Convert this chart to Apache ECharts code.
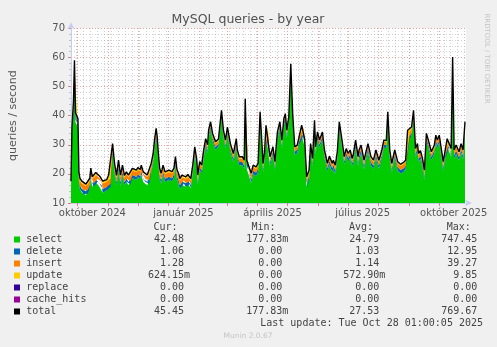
<!DOCTYPE html>
<html><head><meta charset="utf-8">
<script src="https://cdn.jsdelivr.net/npm/echarts@6/dist/echarts.min.js"></script>
<style>html,body{margin:0;padding:0;background:#f0f0f0}#c{width:497px;height:347px}</style>
</head><body><div id="c"></div>
<script>
// ---- data (day offsets from graph start, queries/second) ----
const days = [
0,1,2.5,3.5,4.5,6,7,8,9,11,13,15,17,19,20,21.5,23,25,27,29,31,32,34,36,38,40,42,44,46,48,50,52,54,56,58,60,62,64,66,67.5,70,71,73,75,77,79,81,83,84.5,86,87,88,89.5,91,92,93,95,97,99,
100,102,104,105.5,107,108.5,110,112,114,116,118,120,121,123,125,127,128,130,132,134,136,138,139,141,143,146,149,152,154,156,158,161,164,167,168,170,173,175,176,177.5,179,182,184,187,189,191,194,195.5,197,
199,201,204,206,208.5,211,213,215,216.5,218,220,222,224,226,228.5,230,233,235,236,238,239,240.5,242,244,246,247,249,251,254,256,259,261,264,265,267,269,271,274,276,278,280,282,284,285,287.5,290,291,293,296,298,
300,303,305.5,308,311,314,316,318.5,320,322,324,327,330,333,336,338,340,342,344,346,348,350,351,353,355,357,359,361,364,367,368.5,370,372,374,376,378,380,382,384,385.5,387,389,392,394,396,398];

const total = [
17.5,36,45,59,41,40.5,39,20.5,18.5,17.5,17,16.5,17,18.5,22,19,19.2,20.5,20.7,19.2,19.5,17.5,17.9,18,19.6,19,30.4,23.6,19.5,24.7,19.6,23,19.5,20.7,19.6,19.8,21.9,21.5,21.3,22.2,21.5,23,20.7,20.7,19.6,20,23.6,27,32,35.6,33,28,22,20.2,21.5,23,20.7,21,21.3,
21,20.8,22,25.9,21.5,20.2,18.4,19.6,19.8,19,19.8,19.5,18.4,23,29.3,25,19.6,24.2,23,28.2,32.1,30,35,37.9,33.9,31,32,41.8,35,31.6,36.1,30.4,27,32.1,28.2,25.9,25.9,24.7,45.8,24.7,24.2,20.2,23,22.4,23.6,41.3,23.6,27.6,36.7,
36.5,25.9,29.3,24.2,34.4,37.9,31.6,39,40.7,35,39.6,57.8,40.1,29.3,29.9,32.1,36.7,36.7,32,19,18.5,21.3,30.4,25.3,38.4,29.3,34.4,31.6,34.4,28.2,23.6,26.1,23.6,24.7,23,27.6,37.9,31,25.9,28.7,27,28.2,25.3,26.4,31.6,25.9,28.2,29.9,24.7,27.6,
30.4,25.9,24.7,28.2,24.7,28.2,31.6,31.5,41.3,28.2,23.6,28.2,24.2,23.3,24,24.7,35,35,36.1,41.8,28.7,30.4,27,28,25.3,21.3,33.9,31.6,27.6,29.9,33.3,31.6,33.3,28.7,24.2,28.2,32.1,32,28.7,60.1,28.2,29.9,27.6,30.4,28.2,37.9];

const selectV = [
13.7,32.7,41.9,55.5,37.7,37.3,35.9,17.0,14.8,13.5,12.9,12.7,13.3,15.0,18.7,15.5,15.5,17.1,17.4,15.4,16.0,13.5,14.1,14.3,16.1,15.5,27.3,20.3,15.9,21.5,15.9,19.7,16.0,17.4,16.1,16.4,18.6,18.1,17.9,18.9,18.1,19.8,17.2,17.3,16.0,16.6,20.3,23.9,28.9,32.5,29.9,24.7,18.5,16.6,18.1,19.7,17.2,17.6,18.0,
17.6,17.4,18.8,22.9,18.2,16.8,14.8,16.2,16.7,15.6,16.7,16.4,15.0,20.1,26.4,22.1,16.3,21.3,20.2,25.4,29.6,27.2,32.5,35.4,31.3,28.2,29.4,39.4,32.4,28.8,33.6,27.6,24.1,29.5,25.4,23.0,23.0,21.7,43.4,21.8,21.3,16.8,19.9,19.3,20.7,38.9,20.7,24.8,33.7,
33.2,22.8,26.7,21.4,31.9,35.5,29.0,36.6,38.3,32.4,37.2,55.4,37.7,26.5,27.1,29.5,33.4,33.4,29.2,15.7,15.2,18.2,27.8,22.5,36.0,26.7,31.9,29.0,31.9,25.6,20.8,23.3,20.6,21.9,19.9,25.0,35.5,28.4,23.1,26.1,24.2,25.6,22.5,23.6,29.0,22.7,24.8,27.1,21.6,24.8,
27.7,22.9,21.7,25.5,21.7,25.5,29.0,28.9,38.9,25.5,20.5,25.5,21.1,20.1,20.7,21.6,31.8,31.8,33.0,39.3,25.8,27.8,24.1,25.1,22.2,18.0,31.3,29.0,24.7,27.0,30.7,28.8,30.7,25.8,21.1,25.3,29.5,29.3,25.8,57.6,25.2,26.8,24.5,27.4,25.0,35.1];

const deleteV = [
1.2,1.0,1.0,1.1,1.0,1.0,1.0,1.1,1.2,1.3,1.4,1.3,1.2,1.1,1.0,1.1,1.2,1.0,1.0,1.2,1.1,1.3,1.3,1.2,1.1,1.1,1.0,1.0,1.2,1.0,1.2,1.0,1.1,1.0,1.1,1.1,1.0,1.0,1.1,1.0,1.0,1.0,1.1,1.1,1.2,1.1,1.0,1.0,1.0,1.0,1.0,1.0,1.1,1.2,1.1,1.0,1.1,1.1,1.0,
1.1,1.1,1.0,1.0,1.1,1.2,1.3,1.2,1.1,1.2,1.1,1.1,1.2,1.0,1.0,1.0,1.2,1.0,1.0,1.0,0.9,1.0,0.9,0.9,1.0,1.0,1.0,0.9,1.0,1.0,0.9,1.0,1.1,1.0,1.0,1.1,1.1,1.1,0.9,1.1,1.1,1.3,1.2,1.2,1.1,0.9,1.1,1.0,1.0,
1.2,1.3,1.1,1.2,1.0,1.0,1.1,1.0,1.0,1.1,1.0,1.0,1.0,1.2,1.2,1.1,1.3,1.3,1.2,1.4,1.4,1.3,1.1,1.2,1.0,1.1,1.0,1.1,1.0,1.1,1.2,1.2,1.3,1.2,1.3,1.1,1.0,1.1,1.2,1.1,1.2,1.1,1.2,1.2,1.1,1.3,1.4,1.2,1.3,1.2,
1.1,1.2,1.2,1.1,1.2,1.1,1.0,1.0,0.9,1.1,1.2,1.1,1.2,1.2,1.2,1.1,1.0,1.0,1.0,0.9,1.1,1.0,1.1,1.1,1.2,1.3,1.0,1.0,1.1,1.1,1.0,1.1,1.0,1.1,1.2,1.1,1.0,1.0,1.1,1.0,1.2,1.2,1.2,1.1,1.2,1.0];

const insertV = [
1.8,1.6,1.5,1.7,1.6,1.5,1.5,1.7,1.8,1.9,1.9,1.8,1.8,1.7,1.6,1.7,1.8,1.7,1.6,1.8,1.7,1.9,1.8,1.8,1.7,1.7,1.5,1.6,1.7,1.6,1.8,1.6,1.7,1.6,1.7,1.6,1.6,1.7,1.6,1.6,1.7,1.6,1.7,1.6,1.7,1.6,1.6,1.5,1.5,1.5,1.5,1.6,1.7,1.7,1.6,1.6,1.7,1.6,1.6,
1.6,1.6,1.5,1.4,1.5,1.5,1.6,1.5,1.4,1.5,1.4,1.4,1.5,1.3,1.3,1.3,1.4,1.3,1.2,1.2,1.1,1.2,1.1,1.1,1.1,1.2,1.1,1.0,1.1,1.2,1.1,1.2,1.2,1.1,1.2,1.2,1.2,1.3,1.0,1.2,1.2,1.4,1.3,1.3,1.2,1.0,1.2,1.2,1.4,
1.5,1.2,1.0,1.1,1.0,0.9,1.0,0.9,0.9,1.0,0.9,0.9,0.9,1.1,1.1,1.0,1.4,1.4,1.1,1.3,1.3,1.2,1.0,1.1,0.9,1.0,1.0,1.0,1.0,1.0,1.1,1.1,1.1,1.1,1.2,1.0,0.9,1.0,1.1,1.0,1.1,1.0,1.1,1.1,1.0,1.3,1.4,1.1,1.2,1.1,
1.1,1.2,1.2,1.1,1.2,1.1,1.1,1.1,1.0,1.1,1.3,1.1,1.3,1.4,1.5,1.4,1.6,1.6,1.5,1.1,1.2,1.1,1.2,1.2,1.3,1.4,1.1,1.1,1.2,1.2,1.1,1.2,1.1,1.2,1.3,1.2,1.1,1.2,1.2,1.0,1.2,1.3,1.3,1.3,1.4,1.2];

const updateV = [
0.8,0.7,0.6,0.7,0.7,0.7,0.6,0.7,0.7,0.8,0.8,0.7,0.7,0.7,0.7,0.7,0.7,0.7,0.7,0.8,0.7,0.8,0.7,0.7,0.7,0.7,0.6,0.7,0.7,0.6,0.7,0.7,0.7,0.7,0.7,0.7,0.7,0.7,0.7,0.7,0.7,0.6,0.7,0.7,0.7,0.7,0.7,0.6,0.6,0.6,0.6,0.7,0.7,0.7,0.7,0.7,0.7,0.7,0.7,
0.7,0.7,0.7,0.6,0.7,0.7,0.7,0.7,0.6,0.7,0.6,0.6,0.7,0.6,0.6,0.6,0.7,0.6,0.6,0.6,0.5,0.6,0.5,0.5,0.5,0.6,0.5,0.5,0.5,0.6,0.5,0.6,0.6,0.5,0.6,0.6,0.6,0.6,0.5,0.6,0.6,0.7,0.6,0.6,0.6,0.5,0.6,0.6,0.6,
0.6,0.6,0.5,0.5,0.5,0.5,0.5,0.5,0.5,0.5,0.5,0.5,0.5,0.5,0.5,0.5,0.6,0.6,0.5,0.6,0.6,0.6,0.5,0.5,0.5,0.5,0.5,0.5,0.5,0.5,0.5,0.5,0.6,0.5,0.6,0.5,0.5,0.5,0.5,0.5,0.5,0.5,0.5,0.5,0.5,0.6,0.6,0.5,0.6,0.5,
0.5,0.6,0.6,0.5,0.6,0.5,0.5,0.5,0.5,0.5,0.6,0.5,0.6,0.6,0.6,0.6,0.6,0.6,0.6,0.5,0.6,0.5,0.6,0.6,0.6,0.6,0.5,0.5,0.6,0.6,0.5,0.5,0.5,0.6,0.6,0.6,0.5,0.5,0.6,0.5,0.6,0.6,0.6,0.6,0.6,0.6];

// ---- axis / legend text ----
const monthStarts = ['2024-10-01','2024-11-01','2024-12-01','2025-01-01','2025-02-01','2025-03-01','2025-04-01','2025-05-01','2025-06-01','2025-07-01','2025-08-01','2025-09-01','2025-10-01'];
const xLabelDates = ['2024-10-16','2025-01-16','2025-04-16','2025-07-16','2025-10-16'];
const xLabels = ['október 2024','január 2025','április 2025','július 2025','október 2025'];
const legendNames = ['select','delete','insert','update','replace','cache_hits','total'];
const legendColors = ['#00cc00','#0066b3','#ff8000','#ffcc00','#330099','#990099','#000000'];
const curVals = ['42.48','1.06','1.28','624.15m','0.00','0.00','45.45'];
const minVals = ['177.83m','0.00','0.00','0.00','0.00','0.00','177.83m'];
const avgVals = ['24.79','1.03','1.14','572.90m','0.00','0.00','27.53'];
const maxVals = ['747.45','12.95','39.27','9.85','0.00','0.00','769.67'];
const colHeaders = ['Cur:','Min:','Avg:','Max:'];

const DAY = 86400000;
const T0 = Date.UTC(2024, 8, 24, 10);
const TMAX = T0 + 399 * DAY;
function ts(s){ const p = s.split('-').map(Number); return Date.UTC(p[0], p[1]-1, p[2]); }
const pts = arr => days.map((d, i) => [T0 + d * DAY, arr[i]]);

// weekly (Monday) minor grid
const weekLines = [];
for (let t = Date.UTC(2024, 8, 30); t < TMAX; t += 7 * DAY) weekLines.push(t);

const FONT = 'DejaVu Sans';
const MONO = 'DejaVu Sans Mono';
const TXT = '#555';

const gridMark = {
  silent: true, z: 1, symbol: ['none', 'none'], animation: false,
  label: { show: false }, emphasis: { disabled: true },
  data: weekLines.map(t => ({ xAxis: t, lineStyle: { color: 'rgba(150,150,150,0.45)', type: [1, 2], width: 1 } }))
    .concat(monthStarts.map(s => ({ xAxis: ts(s), lineStyle: { color: 'rgba(225,90,90,0.55)', type: [1, 2], width: 1 } })))
};

const areaSeries = (name, arr, color) => ({
  name, type: 'line', stack: 'q', xAxisIndex: 0,
  data: pts(arr), showSymbol: false, symbol: 'none',
  lineStyle: { width: 0 }, areaStyle: { color, opacity: 1, origin: 'start' }, color, z: 2
});

const series = [
  Object.assign(areaSeries('select', selectV, '#00cc00'), { markLine: gridMark }),
  areaSeries('delete', deleteV, '#0066b3'),
  areaSeries('insert', insertV, '#ff8000'),
  areaSeries('update', updateV, '#ffcc00'),
  { name: 'total', type: 'line', xAxisIndex: 0, data: pts(total), showSymbol: false, symbol: 'none',
    lineStyle: { width: 1.4, color: '#000' }, color: '#000', z: 3 }
];

// legend table graphics
const g = [];
g.push({ type: 'text', x: 248, y: 19.5, style: { text: 'MySQL queries - by year', font: '12.5px "' + FONT + '"', fill: '#505050', align: 'center', verticalAlign: 'middle', textAlign: 'center', textVerticalAlign: 'middle' } });
g.push({ type: 'text', x: 487, y: 58.5, rotation: -Math.PI / 2, style: { text: 'RRDTOOL / TOBI OETIKER', font: '7px "' + FONT + '"', fill: '#c4c4c4', align: 'center', verticalAlign: 'middle', textAlign: 'center', textVerticalAlign: 'middle' } });
const headX = [153.5, 251.5, 349, 446.7];
const numX = [184, 282.3, 379.3, 477.3];
const mono = '10px "' + MONO + '"';
colHeaders.forEach((h, j) => g.push({ type: 'text', x: headX[j], y: 227.5, style: { text: h, font: mono, fill: '#444', align: 'left', verticalAlign: 'middle', textAlign: 'left', textVerticalAlign: 'middle' } }));
const cols = [curVals, minVals, avgVals, maxVals];
legendNames.forEach((n, i) => {
  const y = 239.5 + 12 * i;
  g.push({ type: 'rect', shape: { x: 14, y: y - 3, width: 6, height: 6 }, style: { fill: legendColors[i] } });
  g.push({ type: 'text', x: 26.2, y, style: { text: n, font: mono, fill: '#444', align: 'left', verticalAlign: 'middle', textAlign: 'left', textVerticalAlign: 'middle' } });
  cols.forEach((c, j) => {
    const v = c[i];
    const suf = v.endsWith('m') ? 'm' : '';
    const num = suf ? v.slice(0, -1) : v;
    g.push({ type: 'text', x: numX[j], y, style: { text: num, font: mono, fill: '#444', align: 'right', verticalAlign: 'middle', textAlign: 'right', textVerticalAlign: 'middle' } });
    if (suf) g.push({ type: 'text', x: numX[j], y, style: { text: suf, font: mono, fill: '#444', align: 'left', verticalAlign: 'middle', textAlign: 'left', textVerticalAlign: 'middle' } });
  });
});
g.push({ type: 'text', x: 483, y: 323.5, style: { text: 'Last update: Tue Oct 28 01:00:05 2025', font: mono, fill: '#444', align: 'right', verticalAlign: 'middle', textAlign: 'right', textVerticalAlign: 'middle' } });
g.push({ type: 'text', x: 248, y: 336, style: { text: 'Munin 2.0.67', font: '7.5px "' + FONT + '"', fill: '#c4c4c4', align: 'center', verticalAlign: 'middle', textAlign: 'center', textVerticalAlign: 'middle' } });

const labelTs = xLabelDates.map(ts);
const chart = echarts.init(document.getElementById('c'), null, { renderer: 'canvas' });
chart.setOption({
  animation: false,
  backgroundColor: '#f0f0f0',
  grid: { left: 67, right: 31, top: 28.3, bottom: 144, show: true, backgroundColor: '#ffffff', borderWidth: 0 },
  xAxis: [{
    type: 'time', min: T0, max: TMAX, position: 'bottom',
    axisLine: { show: false }, axisTick: { show: false }, axisLabel: { show: false }, splitLine: { show: false }
  }, {
    type: 'value', min: T0, max: TMAX, scale: true, position: 'bottom', offset: 0,
    axisLine: { show: true, onZero: false, lineStyle: { color: '#c6cdf0', width: 1 }, symbol: ['none', 'arrow'], symbolSize: [5, 7], symbolOffset: [0, 6] },
    axisTick: { show: true, customValues: monthStarts.map(ts), length: 3, lineStyle: { color: '#e08080' } },
    axisLabel: {
      show: true, customValues: labelTs, margin: 5, fontFamily: FONT, fontSize: 10, color: TXT, hideOverlap: false,
      formatter: v => { const k = labelTs.findIndex(t => Math.abs(t - v) < DAY); return k >= 0 ? xLabels[k] : ''; }
    },
    splitLine: { show: false }
  }],
  yAxis: {
    type: 'value', min: 10, max: 70, interval: 10,
    name: 'queries / second', nameLocation: 'middle', nameGap: 52,
    nameTextStyle: { fontFamily: FONT, fontSize: 11, color: TXT },
    axisLine: { show: true, lineStyle: { color: '#c6cdf0', width: 1 }, symbol: ['none', 'arrow'], symbolSize: [5, 7], symbolOffset: [0, 6] },
    axisTick: { show: true, length: 3, lineStyle: { color: '#e08080' } },
    minorTick: { show: true, splitNumber: 5, length: 2, lineStyle: { color: '#c0c0c0' } },
    axisLabel: { fontFamily: FONT, fontSize: 10, color: TXT, margin: 6 },
    splitLine: { show: true, lineStyle: { color: 'rgba(225,90,90,0.55)', type: [1, 2], width: 1 } },
    minorSplitLine: { show: true, lineStyle: { color: 'rgba(150,150,150,0.45)', type: [1, 2], width: 1 } }
  },
  series,
  graphic: { elements: g }
});
</script>
</body></html>
